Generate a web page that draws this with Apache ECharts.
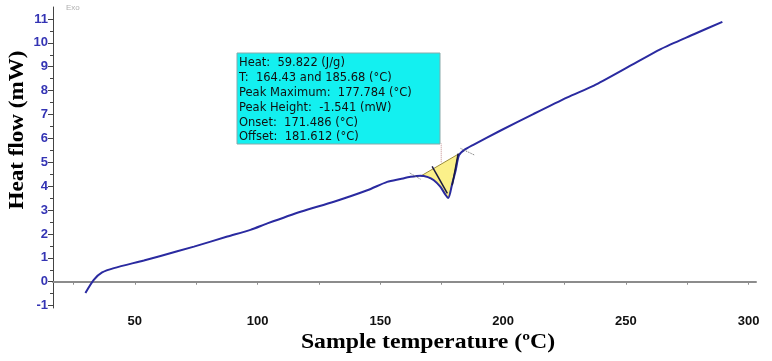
<!DOCTYPE html>
<html><head><meta charset="utf-8">
<script src="https://cdn.jsdelivr.net/npm/echarts@6/dist/echarts.min.js"></script>
<style>html,body{margin:0;padding:0;background:#fff}#c{width:772px;height:361px}</style>
</head><body><div id="c"></div>
<script>
// Sample temperature (°C)
const temps = [29.9, 33.3, 36.7, 41.5, 53.7, 60.5, 74.1, 87.7, 97.1, 104, 117.5, 131.1, 144.7, 152.8, 158.2, 162.3, 166.4, 169.1, 171.8, 174.5, 176.6, 177.7, 179.3, 180.7, 182, 184, 187.5, 199, 212.5, 226.2, 237, 250.6, 264.2, 277.7, 289.3];
// Heat flow (mW)
const heatFlow = [-0.47, 0.08, 0.39, 0.57, 0.89, 1.08, 1.47, 1.89, 2.17, 2.44, 2.93, 3.35, 3.83, 4.18, 4.30, 4.39, 4.44, 4.39, 4.25, 3.97, 3.63, 3.50, 4.11, 4.67, 5.29, 5.50, 5.71, 6.33, 7.03, 7.72, 8.21, 8.97, 9.74, 10.36, 10.88];
// peak integration baseline
const baseT = [166.4, 181.9];
const baseHF = [4.42, 5.35];
// onset / offset tangents
const onsetT = [171.1, 177.3], onsetHF = [4.83, 3.70];
const offsetT = [181.7, 179.3], offsetHF = [5.36, 4.04];
// dotted end markers
const endMarkL_T = [162.0, 166.4], endMarkL_HF = [4.55, 4.29];
const endMarkR_T = [182.7, 188.4], endMarkR_HF = [5.58, 5.30];
// leader from annotation box
const leaderT = [174.8, 174.8], leaderHF = [5.0, 5.79];
const xLabels = [50, 100, 150, 200, 250, 300];
const xTicks = [25, 50, 75, 100, 125, 150, 175, 200, 225, 250, 275, 300];
const yLabels = [-1, 0, 1, 2, 3, 4, 5, 6, 7, 8, 9, 10, 11];
const yMinor = [-0.5, 0.5, 1.5, 2.5, 3.5, 4.5, 5.5, 6.5, 7.5, 8.5, 9.5, 10.5];
const annotation = [
  'Heat:  59.822 (J/g)',
  'T:  164.43 and 185.68 (°C)',
  'Peak Maximum:  177.784 (°C)',
  'Peak Height:  -1.541 (mW)',
  'Onset:  171.486 (°C)',
  'Offset:  181.612 (°C)'
];

const zip = (a, b) => a.map((v, i) => [v, b[i]]);
const curve = zip(temps, heatFlow);
const poly = [[baseT[0], baseHF[0]]]
  .concat(curve.filter(p => p[0] > baseT[0] && p[0] < baseT[1]))
  .concat([[baseT[1], baseHF[1]]]);

const chart = echarts.init(document.getElementById('c'));
const lineS = (data, color, width, type, smooth) => ({
  type: 'line', data, symbol: 'none', silent: true, z: 4, smooth: smooth || false,
  lineStyle: { color, width, type: type || 'solid' }
});
chart.setOption({
  animation: false,
  grid: { left: 53, right: 16, top: 7, bottom: 53 },
  xAxis: {
    type: 'value', min: 16.7, max: 303,
    splitLine: { show: false },
    axisLine: { lineStyle: { color: '#8c8c8c', width: 2 } },
    axisTick: { customValues: xTicks, length: 3, lineStyle: { color: '#8c8c8c' } },
    axisLabel: { customValues: xLabels, color: '#111', fontWeight: 'bold', fontSize: 13, fontFamily: 'Liberation Sans', margin: 7 }
  },
  yAxis: [{
    type: 'value', min: -1.1, max: 11.5,
    splitLine: { show: false },
    axisLine: { show: true, lineStyle: { color: '#444', width: 1 } },
    axisTick: { show: true, customValues: yLabels, length: 5, lineStyle: { color: '#444' } },
    axisLabel: { customValues: yLabels, color: '#3434b4', fontWeight: 'bold', fontSize: 13, fontFamily: 'Liberation Sans', margin: 5 }
  }, {
    type: 'value', min: -1.1, max: 11.5, position: 'left',
    splitLine: { show: false },
    axisLine: { show: false },
    axisTick: { show: true, customValues: yMinor, length: 3, lineStyle: { color: '#444' } },
    axisLabel: { show: false }
  }],
  series: [
    {
      type: 'custom', silent: true, z: 2,
      renderItem: (params, api) => ({
        type: 'polygon',
        shape: { points: poly.map(p => api.coord(p)) },
        style: { fill: '#fbf08a', stroke: '#9a8a3a', lineWidth: 1 }
      }),
      data: [0]
    },
    lineS(curve, '#2a2aa0', 2, 'solid', 0.25),
    lineS(zip(onsetT, onsetHF), '#1a1a40', 1.5),
    lineS(zip(offsetT, offsetHF), '#1a1a40', 1.5),
    lineS(zip(endMarkL_T, endMarkL_HF), '#666', 1, 'dotted'),
    lineS(zip(endMarkR_T, endMarkR_HF), '#666', 1, 'dotted'),
    lineS(zip(leaderT, leaderHF), '#c08a8a', 1, 'dotted')
  ],
  graphic: [
    { type: 'text', left: 66, top: 4, style: { text: 'Exo', fontSize: 8, fill: '#b0b0b0', fontFamily: 'Liberation Sans' } },
    { type: 'rect', shape: { x: 237, y: 53, width: 203, height: 91 }, style: { fill: '#13f0f0', stroke: '#88aaaa', lineWidth: 1 } },
    { type: 'text', x: 239, y: 56, style: { text: annotation.join('\n'), fontSize: 11.5, lineHeight: 14.8, fill: '#111', fontFamily: 'DejaVu Sans' } },
    { type: 'text', x: 428, y: 342, scaleX: 1.08, style: { text: 'Sample temperature (ºC)', fontSize: 22, fontWeight: 'bold', fill: '#000', fontFamily: 'Liberation Serif', align: 'center', verticalAlign: 'middle' } },
    { type: 'text', x: 17, y: 130, rotation: Math.PI / 2, scaleX: 1.05, style: { text: 'Heat flow (mW)', fontSize: 22, fontWeight: 'bold', fill: '#000', fontFamily: 'Liberation Serif', align: 'center', verticalAlign: 'middle' } }
  ]
});
</script></body></html>
